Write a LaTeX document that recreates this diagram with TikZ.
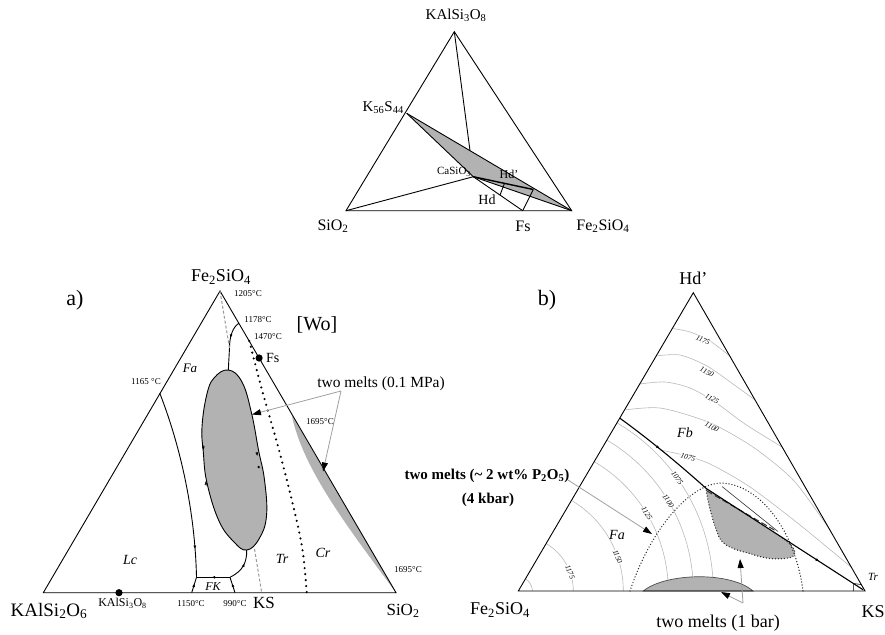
\documentclass[tikz,border=0pt]{standalone}
\usepackage{fontspec}
\setmainfont{Liberation Serif}
\usetikzlibrary{arrows.meta,decorations.markings}
\newcommand\fsz[1]{\fontsize{#1}{#1}\selectfont}
\newcommand\sub[1]{\textsubscript{#1}}
\begin{document}
\begin{tikzpicture}[x=1pt,y=-1pt,
  edge/.style={line width=0.9pt,black},
  shadefill/.style={fill=gray!60},
  iso/.style={gray!55,line width=0.6pt},
  lead/.style={gray!75,line width=0.8pt},
  bigdots/.style={line width=2.4pt,dash pattern=on 0pt off 6pt,line cap=round},
  smalldots/.style={black!85,line width=1.4pt,dash pattern=on 0pt off 3pt,line cap=round},
  gdash/.style={gray!80,line width=1pt,dash pattern=on 3pt off 2pt},
  tip/.style={-{Triangle[length=9pt,width=6pt,color=black]}},
  midarr/.style={postaction={decorate,decoration={markings,mark=at position #1 with {\arrow{Latex[length=3.5pt,width=3pt]}}}}},
  lab/.style={inner sep=1pt,font=\fsz{#1}},
  tmp/.style={inner sep=0.3pt,font=\fsz{7.5}\itshape,fill=white},
]
\useasboundingbox (0,0) rectangle (885,634);

% ================= top triangle =================
\coordinate (T1) at (454.3,31.7);
\coordinate (T2) at (346,210.7);
\coordinate (T3) at (571.7,210.7);
\coordinate (TK) at (406.7,113.3);
\coordinate (TC) at (473.3,176.7);
\coordinate (TF) at (522.7,210.7);
\coordinate (TJ) at (470,150.7);
\coordinate (TH) at (533.3,189.5);
\coordinate (THd) at (500,195.1);
\coordinate (THe) at (504.5,183.3);
\fill[shadefill] (TK) -- (T3) -- (TC) -- cycle;
\draw[edge] (T1) -- (T2) -- (T3) -- cycle;
\draw[edge] (T1) -- (TJ);
\draw[edge] (TK) -- (T3);
\draw[edge] (TK) -- (TC);
\draw[edge] (T2) -- (TC) -- (TF);
\draw[edge] (TC) -- (T3);
\draw[edge,line width=1.4pt] (TC) -- (TH);
\draw[edge] (THd) -- (THe);
\draw[edge] (TH) -- (TF);
\node[lab=15] (tKAl) at (456,15) {KAlSi\sub{3}O\sub{8}};
\node[lab=15,anchor=east] (tK56) at (405,108) {K\sub{56}S\sub{44}};
\node[lab=11,anchor=east] (tCa) at (472,172) {CaSiO\sub{3}};
\node[lab=12] (tHdp) at (509,174) {Hd'};
\node[lab=14] (tHd) at (487,200) {Hd};
\node[lab=16] (tSi) at (333,226) {SiO\sub{2}};
\node[lab=16] (tFs) at (523,226) {Fs};
\node[lab=16] (tFe) at (603,226) {Fe\sub{2}SiO\sub{4}};

% ================= panel a =================
\coordinate (AF) at (220,291);
\coordinate (AK) at (43.3,592.7);
\coordinate (AS) at (396,592.7);
\coordinate (A1165) at (159.8,393.3);
\coordinate (A1178) at (238.8,323.3);
\coordinate (A1470) at (249.3,341);
\coordinate (AKS) at (261.7,592.7);
\coordinate (AFtl) at (196.5,577.3);
\coordinate (AFbl) at (191.7,592.7);
\coordinate (AFtr) at (230,577.3);
\coordinate (AFbr) at (235,592.7);
\coordinate (ABtop) at (228.3,370);
\coordinate (ABbot) at (246.7,550);
\coordinate (AJ) at (229.5,348);
\coordinate (ACr) at (306.7,592.7);
\coordinate (ASl) at (291.7,415);

\fill[shadefill] (ASl) -- (AS) .. controls (350,530) and (303,470) .. (ASl);
\draw[edge,fill=gray!60] plot[smooth cycle,tension=0.7] coordinates {(228.3,370) (214,378) (206.7,395) (202,427) (203.3,452) (207,483) (219,521) (234,542) (246.7,550) (259,539) (266.5,516) (264.5,480) (258.5,450) (251.5,413) (242,382)};
\draw[-{Latex[length=3.5pt,width=3pt]}] (203.2,445) -- (203.3,450);
\draw[-{Latex[length=3.5pt,width=3pt]}] (206.2,486) -- (205.8,481);
\draw[-{Latex[length=3.5pt,width=3pt]}] (256.8,452) -- (257.2,456);
\fill (258.7,467) circle (1.3pt);
\draw[edge] (AF) -- (AK) -- (AS) -- cycle;
\draw[edge,midarr=0.85] (A1165) .. controls (180,445) and (195,510) .. (AFtl);
\draw[edge,midarr=0.6] (AFbl) -- (AFtl);
\draw[edge,midarr=0.55] (AFtr) -- (AFtl);
\draw[edge,midarr=0.6] (AFbr) -- (AFtr);
\draw[edge,midarr=0.6] (AFtr) .. controls (243,571) and (247,562) .. (ABbot);
\draw[edge,midarr=0.35] (A1178) .. controls (233,327) and (229.5,336) .. (AJ) -- (ABtop);
\draw[gdash] (AF) -- (AJ);
\draw[gdash] (254.5,549) -- (AKS);
\draw[bigdots] plot[smooth,tension=0.6] coordinates {(A1470) (262,390) (279,450) (293,505) (302.5,550) (ACr)};
\fill (259.1,358) circle (3.6pt);
\fill (119,592.7) circle (3.6pt);
\coordinate (ALa) at (341,391);
\draw[lead,tip] (ALa) -- (252,414.5);
\draw[lead,tip] (ALa) -- (323,471.5);
\node[lab=18] (aFe) at (221,277) {Fe\sub{2}SiO\sub{4}};
\node[lab=22] (aA) at (75,300) {a)};
\node[lab=9,anchor=west] (a1205) at (233,293.5) {1205°C};
\node[lab=9] (a1178) at (258,319.5) {1178°C};
\node[lab=9] (a1470) at (268,337) {1470°C};
\node[lab=20] (aWo) at (317,325) {[Wo]};
\node[lab=14,anchor=west] (aFs) at (265,358) {Fs};
\node[lab=13,font=\fsz{13}\itshape] (aFa) at (190,368) {Fa};
\node[lab=9] (a1165) at (146,382) {1165 °C};
\node[lab=15.5] (aTwo) at (381,384) {two melts (0.1 MPa)};
\node[lab=9] (a1695a) at (320,422) {1695°C};
\node[lab=9] (a1695b) at (408,570) {1695°C};
\node[lab=14,font=\fsz{14}\itshape] (aLc) at (130,560) {Lc};
\node[lab=14,font=\fsz{14}\itshape] (aTr) at (282,559) {Tr};
\node[lab=14,font=\fsz{14}\itshape] (aCr) at (323,553) {Cr};
\node[lab=12,font=\fsz{12}\itshape] (aFK) at (213,586.5) {FK};
\node[lab=9] (a1150) at (191,604) {1150°C};
\node[lab=9] (a990) at (235,604) {990°C};
\node[lab=17] (aKS) at (264,603) {KS};
\node[lab=12] (aKAl3) at (122.5,603.5) {KAlSi\sub{3}O\sub{8}};
\node[lab=19] (aKAl2) at (49,611) {KAlSi\sub{2}O\sub{6}};
\node[lab=17] (aSi) at (403,611) {SiO\sub{2}};

% ================= panel b =================
\coordinate (BH) at (693.3,292.7);
\coordinate (BF) at (518.3,591);
\coordinate (BK) at (865,591);
\coordinate (BL1) at (620,418.3);
\coordinate (BG1) at (706,488.3);
\coordinate (BG2) at (780,536.3);

\foreach \r in {14,55,105,150,175,195}{
  \draw[iso] plot[smooth,domain=0:59.6,samples=25] ({518.3+\r*cos(\x)},{591-\r*sin(\x)});
}
\draw[iso] plot[smooth] coordinates {(672.6,328.5) (690,332) (710,341) (731,357)};
\draw[iso] plot[smooth] coordinates {(656,356) (680,355) (707,366) (733,384) (755,400)};
\draw[iso] plot[smooth] coordinates {(639.7,384) (665,382) (690,388) (715,402) (745,424) (782,447)};
\draw[iso] plot[smooth] coordinates {(624.4,410) (660,408) (703,420) (730,433) (760,452) (795,482) (830,530)};
\draw[iso] plot[smooth] coordinates {(660,450) (683,455) (710,464) (750,487) (800,525) (851,567)};
\draw[black!70,line width=0.7pt,fill=gray!60] (643.3,591) .. controls (665,573) and (730,571) .. (753,591) -- cycle;
\fill[shadefill] (BG1) -- (BG2) .. controls (790,543) and (801,553) .. (791,557.5) .. controls (772,561) and (760,557) .. (750,553.5) .. controls (735,550) and (723,546) .. (719,537) .. controls (714,525) and (708,505) .. cycle;
\draw[smalldots] (BG2) .. controls (790,543) and (801,553) .. (791,557.5) .. controls (772,561) and (760,557) .. (750,553.5) .. controls (735,550) and (723,546) .. (719,537) .. controls (714,525) and (708,505) .. (BG1);
\draw[black!80,line width=1pt,dash pattern=on 6pt off 3pt] (707,491) -- (776,531);
\draw[black!80,line width=0.6pt] (722,486.5) -- (778,531.5);
\draw[smalldots] (630,591) .. controls (650,530) and (690,483) .. (722,483) .. controls (760,485) and (795,530) .. (803,591);
\draw[edge] (BH) -- (BF) -- (BK) -- cycle;
\draw[edge,line width=1.1pt,midarr=0.45] (BL1) .. controls (650,440) and (680,465) .. (BG1);
\draw[edge,line width=1.1pt,midarr=0.72] (BG1) -- (863,589.7);
\draw[edge,line width=0.6pt] (853.3,591) -- (853.3,583.5) -- (861,584.5);
\coordinate (BLa) at (568,480);
\draw[lead,tip] (BLa) -- (652,534);
\coordinate (BLb) at (743,603);
\draw[lead,tip] (BLb) -- (740,559);
\draw[lead,tip] (BLb) -- (721,592);
\node[tmp,rotate=-25] (u1175) at (703,340) {1175};
\node[tmp,rotate=-28] (u1150) at (707,372) {1150};
\node[tmp,rotate=-30] (u1125) at (712,399) {1125};
\node[tmp,rotate=-28] (u1100) at (712,427) {1100};
\node[tmp,rotate=-18] (u1075) at (688,457) {1075};
\node[tmp,rotate=-68] (l1175) at (570,572) {1175};
\node[tmp,rotate=-68] (l1150) at (617.6,556.8) {1150};
\node[tmp,rotate=-58] (l1125) at (646.9,513.7) {1125};
\node[tmp,rotate=-56] (l1100) at (668.3,500.9) {1100};
\node[tmp,rotate=-54] (l1075) at (677.2,478) {1075};
\node[lab=22] (bB) at (547,300) {b)};
\node[lab=18] (bHd) at (693.3,278) {Hd'};
\node[lab=18] (bKS) at (873,612) {KS};
\node[lab=18] (bFe) at (500,610) {Fe\sub{2}SiO\sub{4}};
\node[lab=14,font=\fsz{14}\itshape] (bFb) at (685,433) {Fb};
\node[lab=14,font=\fsz{14}\itshape] (bFa) at (617,535) {Fa};
\node[lab=11,font=\fsz{11}\itshape] (bTr) at (873,577) {Tr};
\node[lab=15,font=\fsz{15}\bfseries] (bP1) at (487,476) {two melts (\textasciitilde{} 2 wt\% P\sub{2}O\sub{5})};
\node[lab=15,font=\fsz{15}\bfseries] (bP2) at (488,500) {(4 kbar)};
\node[lab=18] (b1bar) at (718,623) {two melts (1 bar)};
\end{tikzpicture}
\end{document}
